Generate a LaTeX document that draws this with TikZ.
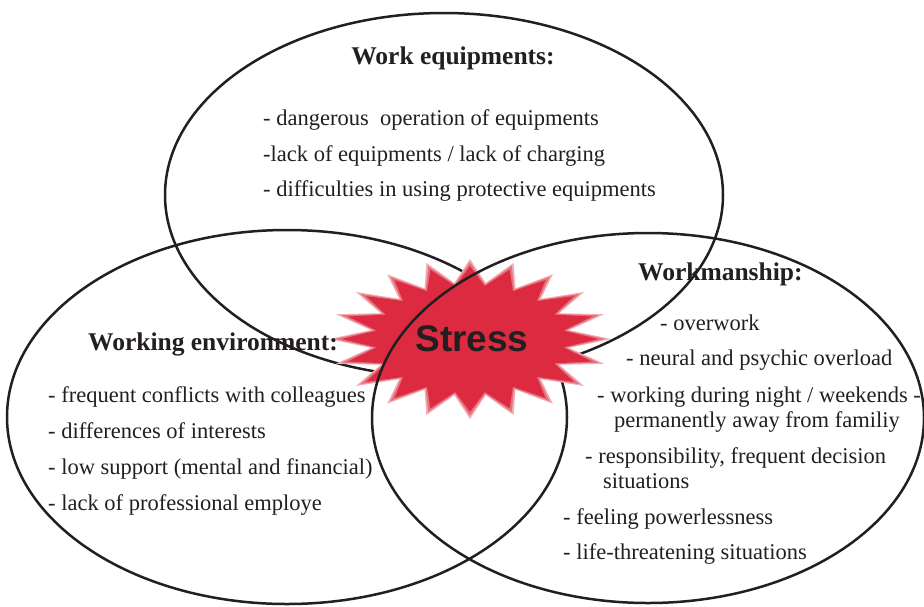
\documentclass[tikz,border=0pt]{standalone}
\usepackage{fontspec}
\setmainfont{Liberation Serif}
\newfontfamily\stressfont{Liberation Sans}
\definecolor{ink}{HTML}{231F20}
\definecolor{starred}{HTML}{DC2A41}
\definecolor{starmid}{HTML}{E6707C}
\definecolor{starpale}{HTML}{F2AEB3}
\begin{document}
\begin{tikzpicture}[x=1pt,y=-1pt,
  ring/.style={draw=ink,line width=2.5pt},
  heading/.style={font=\bfseries\fontsize{25.5}{28}\selectfont,text=ink,inner sep=0pt},
  item/.style={font=\fontsize{22.5}{25}\selectfont,text=ink,inner sep=0pt,anchor=base west},
  bigword/.style={font=\stressfont\bfseries\fontsize{37}{40}\selectfont,text=ink,inner sep=0pt}]
\useasboundingbox (0,0) rectangle (924,606);
\fill[white] (0,0) rectangle (924,606);

% the two circles lying beneath the burst
\draw[ring] (444,195) ellipse [x radius=279, y radius=182];
\draw[ring] (287,417) ellipse [x radius=280, y radius=187];

% twenty-point burst, drawn in three layers from pale rim to red core
\begin{scope}[shift={(470,339)},x=141pt,y=80pt]
  \fill[starpale] (0:1) \foreach \i in {1,...,39}{ -- ({\i*9}:{mod(\i,2)==0 ? 1 : 0.71}) } -- cycle;
  \fill[starmid] (0:0.96) \foreach \i in {1,...,39}{ -- ({\i*9}:{mod(\i,2)==0 ? 0.96 : 0.69}) } -- cycle;
  \fill[starred] (0:0.91) \foreach \i in {1,...,39}{ -- ({\i*9}:{mod(\i,2)==0 ? 0.91 : 0.67}) } -- cycle;
\end{scope}

% the circle drawn over the burst
\draw[ring] (648,418) ellipse [x radius=276, y radius=185];

\node[bigword] (stress) at (472,339) {Stress};

% work equipments
\node[heading] (eqhead) at (453,58) {Work equipments:};
\node[item] (eq1) at (263,125) {- dangerous\ \ operation of equipments};
\node[item] (eq2) at (263,161) {-lack of equipments / lack of charging};
\node[item] (eq3) at (263,196) {- difficulties in using protective equipments};

% working environment
\node[heading,anchor=base west] (envhead) at (88,350) {Working environment:};
\node[item] (env1) at (48,402) {- frequent conflicts with colleagues};
\node[item] (env2) at (48,438) {- differences of interests};
\node[item] (env3) at (48,474) {- low support (mental and financial)};
\node[item] (env4) at (48,510) {- lack of professional employe};

% workmanship
\node[heading,anchor=base west] (wmhead) at (638,280) {Workmanship:};
\node[item] (wm1) at (660,330) {- overwork};
\node[item] (wm2) at (626,365) {- neural and psychic overload};
\node[item] (wm3) at (597,402) {- working during night / weekends -};
\node[item] (wm3b) at (614,427) {permanently away from familiy};
\node[item] (wm4) at (585,463) {- responsibility, frequent decision};
\node[item] (wm4b) at (603,488) {situations};
\node[item] (wm5) at (563,524) {- feeling powerlessness};
\node[item] (wm6) at (563,559) {- life-threatening situations};
\end{tikzpicture}
\end{document}
